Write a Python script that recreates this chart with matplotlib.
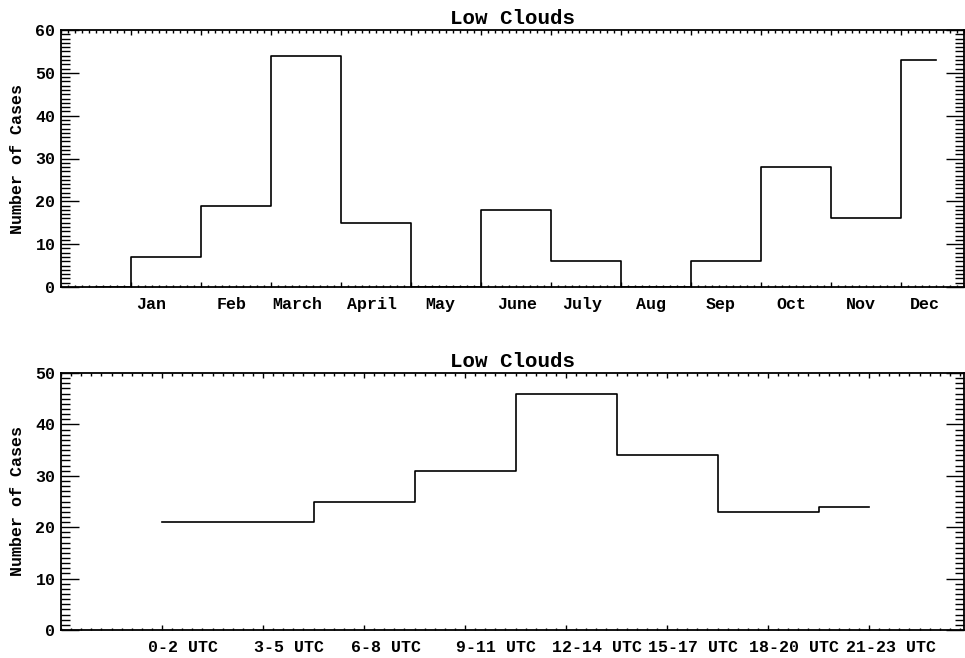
import matplotlib.pyplot as plt
import numpy as np
from matplotlib.ticker import MultipleLocator, FixedLocator, NullFormatter

# monthly counts, with an empty padding bin in front of January
month_x = np.arange(13)
month_counts = [0, 7, 19, 54, 15, 0, 18, 6, 0, 6, 28, 16, 53]
month_names = ['Jan', 'Feb', 'March', 'April', 'May', 'June', 'July',
               'Aug', 'Sep', 'Oct', 'Nov', 'Dec']
month_label_x = [0.79, 1.94, 2.87, 3.94, 4.92, 6.02, 6.95, 7.93, 8.93,
                 9.93, 10.93, 11.84]

# counts per 3-hour block
hour_x = np.arange(8)
hour_counts = [21, 21, 25, 31, 46, 34, 23, 24]
hour_names = ['0-2 UTC', '3-5 UTC', '6-8 UTC', '9-11 UTC', '12-14 UTC',
              '15-17 UTC', '18-20 UTC', '21-23 UTC']
hour_label_x = [0.21, 1.26, 2.22, 3.31, 4.31, 5.26, 6.26, 7.22]

plt.rcParams['font.family'] = ['Liberation Mono', 'DejaVu Sans Mono']
plt.rcParams['font.weight'] = 'bold'

fig = plt.figure(figsize=(9.65, 6.58), dpi=100)
ax1 = fig.add_axes([61 / 965, 1 - 287 / 658, 903 / 965, 257 / 658])
ax2 = fig.add_axes([61 / 965, 1 - 630 / 658, 903 / 965, 257 / 658])


def style(ax, xmajor, ymax, label_x, names):
    ax.set_ylim(0, ymax)
    ax.xaxis.set_major_locator(FixedLocator(xmajor))
    ax.xaxis.set_major_formatter(NullFormatter())
    ax.xaxis.set_minor_locator(MultipleLocator((xmajor[1] - xmajor[0]) / 10))
    ax.yaxis.set_major_locator(MultipleLocator(10))
    ax.yaxis.set_minor_locator(MultipleLocator(1))
    ax.tick_params(axis='both', which='both', direction='in',
                   top=True, right=True, width=1.0, color='black')
    ax.tick_params(axis='x', which='major', length=3.6)
    ax.tick_params(axis='x', which='minor', length=1.8)
    ax.tick_params(axis='y', which='major', length=13, labelsize=12, pad=4)
    ax.tick_params(axis='y', which='minor', length=6.5)
    for s in ax.spines.values():
        s.set_linewidth(1.3)
    for x, name in zip(label_x, names):
        ax.text(x, -0.04, name, transform=ax.get_xaxis_transform(),
                ha='center', va='top', fontsize=12, fontweight='bold')
    ax.set_title('Low Clouds', fontsize=15, fontweight='bold', pad=4)
    ax.set_ylabel('Number of Cases', fontsize=12, fontweight='bold')
    ax.yaxis.set_label_coords(-0.04, 0.5)


ax1.step(month_x, month_counts, where='mid', color='black', lw=1.2)
ax1.set_xlim(-0.5, 12.4)
style(ax1, np.arange(12) + 0.5, 60, month_label_x, month_names)

ax2.step(hour_x, hour_counts, where='mid', color='black', lw=1.2)
ax2.set_xlim(-1, 7.94)
style(ax2, np.arange(8), 50, hour_label_x, hour_names)

fig.savefig('out.png', dpi=100)
